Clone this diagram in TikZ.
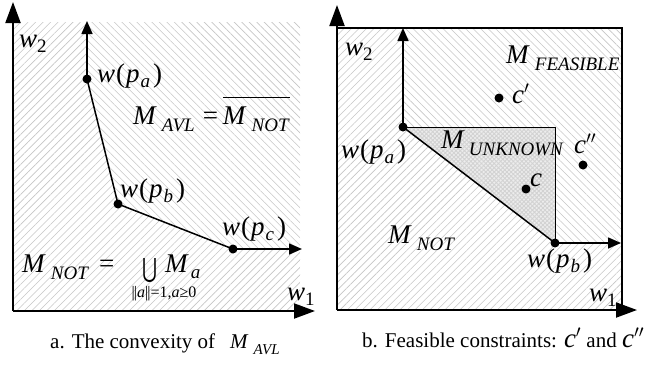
\documentclass[tikz,border=0pt]{standalone}
\usepackage{fontspec}
\usepackage{graphicx}
\setmainfont{Liberation Serif}
\newfontfamily\symfam{DejaVu Sans}
\usetikzlibrary{arrows.meta,patterns.meta}

\newcommand{\lblsize}{\fontsize{27}{29}\selectfont}
\newcommand{\subsize}{\fontsize{19}{20}\selectfont}
\newcommand{\smallsub}{\fontsize{16}{17}\selectfont}
\newcommand{\capsize}{\fontsize{21}{23}\selectfont}
\newcommand{\Msub}[1]{\textit{M}\kern5pt\raisebox{-7pt}{\subsize\textit{#1}}}
\newcommand{\wpp}[1]{\textit{w}\kern1pt(\kern1pt\textit{p}\kern1pt\raisebox{-5pt}{\subsize\textit{#1}}\kern3pt)}
\newcommand{\wsub}[1]{\textit{w}\raisebox{-5pt}{\subsize #1}}
\newcommand{\ovl}[1]{\setbox0\hbox{#1}\rlap{\rule[26pt]{\wd0}{0.8pt}}\box0}

\tikzset{
  hatchA/.style={pattern={Lines[angle=45,distance=5.3pt,line width=0.6pt]},pattern color=gray!45},
  hatchB/.style={pattern={Lines[angle=-45,distance=5.3pt,line width=0.6pt]},pattern color=gray!45},
  unkbase/.style={fill=gray!14},
  unkpat/.style={pattern={Hatch[angle=45,distance=3pt,line width=0.9pt]},pattern color=gray!35},
  axis/.style={line width=2pt,-{Triangle[length=21pt,width=15pt]}},
  arr/.style={line width=1.6pt,-{Triangle[length=13pt,width=11pt]}},
  edge/.style={line width=1.5pt},
  thinedge/.style={line width=1pt},
  dot/.style={circle,fill=black,inner sep=0pt,minimum size=9pt},
  lbl/.style={inner sep=0pt,font=\lblsize,anchor=base west},
  captext/.style={inner sep=0pt,font=\capsize,anchor=base west},
}

\begin{document}
\begin{tikzpicture}[x=1pt,y=1pt]
\useasboundingbox (0,0) rectangle (645,-365);

% ---------------- panel a ----------------
\fill[hatchA] (13,-22) -- (87,-22) -- (87,-79) -- (118,-204) -- (233,-249) -- (300,-249) -- (300,-311) -- (13,-311) -- cycle;
\fill[hatchB] (87,-22) -- (87,-79) -- (118,-204) -- (233,-249) -- (300,-249) -- (300,-22) -- cycle;

\coordinate (oa) at (13,-311);
\coordinate (a2) at (13,-2);
\coordinate (a1) at (315,-311);
\draw[axis] (oa) -- (a2);
\draw[axis] (oa) -- (a1);

\node[dot] (pa) at (87,-79) {};
\node[dot] (pb) at (118,-204) {};
\node[dot] (pc) at (233,-249) {};
\coordinate (patop) at (87,-21);
\coordinate (pcend) at (302,-249);
\draw[arr] (pa.center) -- (patop);
\draw[edge] (pa.center) -- (pb.center) -- (pc.center);
\draw[arr] (pc.center) -- (pcend);

\node[lbl] (lw2a) at (19,-47) {\wsub{2}};
\node[lbl] (lpa) at (97,-82) {\wpp{a}};
\node[lbl] (lavl) at (133,-124) {\Msub{AVL}\kern8pt=\kern5pt\ovl{\Msub{NOT}}};
\node[lbl] (lpb) at (120,-197) {\wpp{b}};
\node[lbl] (lpc) at (222,-235) {\wpp{c}};
\node[lbl] (lnot) at (22,-272) {\Msub{NOT}\kern10pt=};
\node[inner sep=0pt,anchor=base west] (cup) at (142,-277) {\resizebox{15pt}{19pt}{\symfam ⋃}};
\node[lbl] (lma) at (165,-272) {\textit{M}\kern2pt\raisebox{-6pt}{\subsize\textit{a}}};
\node[inner sep=0pt,font=\smallsub,anchor=base] (lcond) at (164,-297) {|\kern-1pt|\textit{a}|\kern-1pt|=1,\textit{a}≥0};
\node[lbl] (lw1a) at (287,-300) {\wsub{1}};

\node[captext] (capa) at (50,-348) {a. The convexity of};
\node[captext] (capam) at (230,-348) {\textit{M}\kern5pt\raisebox{-6pt}{\fontsize{15}{16}\selectfont\textit{AVL}}};

% ---------------- panel b ----------------
\fill[hatchA] (337,-28) -- (403,-28) -- (403,-127) -- (555,-243) -- (622,-243) -- (622,-310) -- (337,-310) -- cycle;
\fill[hatchB] (403,-28) -- (622,-28) -- (622,-243) -- (555,-243) -- (555,-127) -- (403,-127) -- cycle;
\fill[unkbase] (403,-127) -- (555,-127) -- (555,-243) -- cycle;
\fill[unkpat] (403,-127) -- (555,-127) -- (555,-243) -- cycle;

\coordinate (ob) at (337,-310);
\coordinate (b2) at (337,-5);
\coordinate (b1) at (637,-310);
\coordinate (btl) at (337,-28);
\coordinate (btr) at (622,-28);
\coordinate (bbr) at (622,-310);
\draw[edge] (btl) -- (btr) -- (bbr);
\draw[axis] (ob) -- (b2);
\draw[axis] (ob) -- (b1);

\node[dot] (qa) at (403,-127) {};
\node[dot] (qb) at (555,-243) {};
\coordinate (qcorner) at (555,-127);
\coordinate (qatop) at (403,-28);
\coordinate (qbend) at (621,-243);
\draw[arr] (qa.center) -- (qatop);
\draw[thinedge] (qa.center) -- (qcorner) -- (qb.center);
\draw[edge] (qa.center) -- (qb.center);
\draw[arr] (qb.center) -- (qbend);

\node[dot] (c1) at (499,-98) {};
\node[dot] (c2) at (583,-165) {};
\node[dot] (c0) at (526,-189) {};

\node[lbl] (lw2b) at (345,-55) {\wsub{2}};
\node[lbl] (lfeas) at (506,-63) {\Msub{FEASIBLE}};
\node[lbl] (lc1) at (512,-103) {\textit{c}$'$};
\node[lbl] (lc2) at (574,-153) {\textit{c}$''$};
\node[lbl] (lunk) at (441,-148) {\textit{M}\kern4pt\raisebox{-7pt}{\subsize\textit{UNKNOWN}}};
\node[lbl] (lqa) at (341,-158) {\wpp{a}};
\node[lbl] (lc0) at (530,-186) {\textit{c}};
\node[lbl] (lnotb) at (388,-243) {\Msub{NOT}};
\node[lbl] (lqb) at (527,-267) {\wpp{b}};
\node[lbl] (lw1b) at (589,-301) {\wsub{1}};

\node[captext] (capb) at (362,-347) {b. Feasible constraints: {\lblsize\textit{c}$'$} and {\lblsize\textit{c}$''$}};
\end{tikzpicture}
\end{document}
